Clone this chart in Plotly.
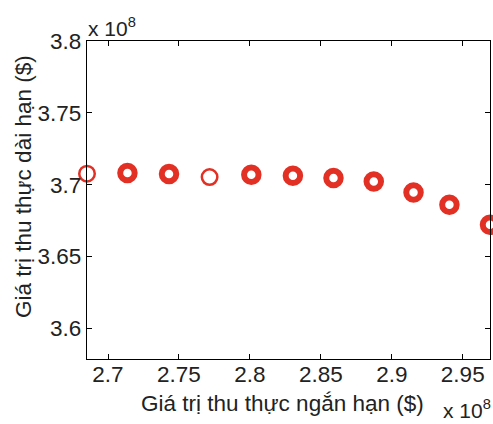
import plotly.graph_objects as go

# Values in units of 10^8 dollars
short_term_main = [2.7137, 2.7430, 2.8010, 2.8303, 2.8589, 2.8873, 2.9153, 2.9406, 2.9692]
long_term_main = [3.7081, 3.7074, 3.7069, 3.7062, 3.7046, 3.7022, 3.6946, 3.6860, 3.6720]

short_term_alt = [2.6852, 2.7716]
long_term_alt = [3.7076, 3.7053]

x_ticks = [2.7, 2.75, 2.8, 2.85, 2.9, 2.95]
x_tick_text = ["2.7", "2.75", "2.8", "2.85", "2.9", "2.95"]
y_ticks = [3.6, 3.65, 3.7, 3.75, 3.8]
y_tick_text = ["3.6", "3.65", "3.7", "3.75", "3.8"]

x_title = "Giá trị thu thực ngắn hạn ($)"
y_title = "Giá trị thu thực dài hạn ($)"
exponent_text = "x 10<sup>8</sup>"

RED = "rgb(226,48,36)"
FONT = "Liberation Sans, Arial, sans-serif"

fig = go.Figure()
fig.add_trace(go.Scatter(
    x=short_term_main, y=long_term_main, mode="markers",
    marker=dict(symbol="circle-open", size=14.5, color=RED,
                line=dict(color=RED, width=6)),
    cliponaxis=False, showlegend=False,
))
fig.add_trace(go.Scatter(
    x=short_term_alt, y=long_term_alt, mode="markers",
    marker=dict(symbol="circle-open", size=15.5, color=RED,
                line=dict(color=RED, width=2.5)),
    cliponaxis=False, showlegend=False,
))

axis_common = dict(
    showline=True, linecolor="black", linewidth=1.3, mirror="ticks",
    ticks="inside", ticklen=5, tickwidth=1, tickcolor="black",
    showgrid=False, zeroline=False,
    tickfont=dict(family=FONT, size=22.5, color="#222"),
)

fig.update_xaxes(range=[short_term_alt[0], short_term_main[-1]],
                 tickvals=x_ticks, ticktext=x_tick_text,
                 ticklabelstandoff=-5, **axis_common)
fig.update_yaxes(range=[3.5786, 3.8],
                 tickvals=y_ticks, ticktext=y_tick_text, **axis_common)

W, H = 493, 424
L, R, T, B = 87, 3, 41, 65
pw, ph = W - L - R, H - T - B


def px(x):
    return (x - L) / pw


def py(y):
    return (H - B - y) / ph


title_font = dict(family=FONT, size=22.5, color="#222")
exp_font = dict(family=FONT, size=21, color="#222")
annotations = [
    dict(text=x_title, x=px(282.5), y=py(403), xanchor="center", yanchor="middle",
         font=title_font),
    dict(text=y_title, x=px(23), y=py(187), xanchor="center", yanchor="middle",
         textangle=-90, font=title_font),
    dict(text=exponent_text, x=px(86), y=py(27), xanchor="left", yanchor="middle",
         font=exp_font),
    dict(text=exponent_text, x=px(441), y=py(409), xanchor="left", yanchor="middle",
         font=exp_font),
]
for a in annotations:
    a.update(xref="paper", yref="paper", showarrow=False)

fig.update_layout(
    width=W, height=H,
    margin=dict(l=L, r=R, t=T, b=B),
    paper_bgcolor="white", plot_bgcolor="white",
    annotations=annotations,
)

fig.write_html("out.html")
